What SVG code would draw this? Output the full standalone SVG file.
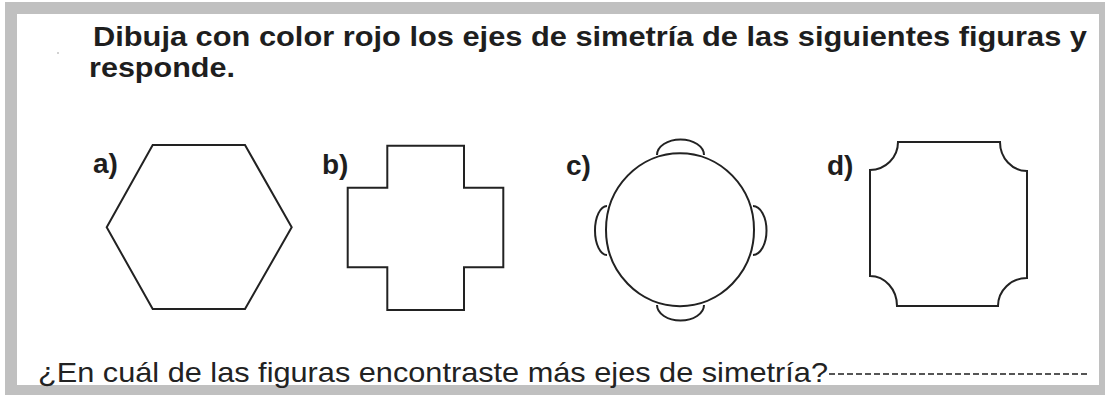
<svg xmlns="http://www.w3.org/2000/svg" width="1105" height="396" viewBox="0 0 1105 396">
  <style>
    .title { font-family: "Liberation Sans", Arial, sans-serif; font-weight: bold; font-size: 28px; fill: #1e1e1e; }
    .label { font-family: "Liberation Sans", Arial, sans-serif; font-weight: bold; font-size: 28px; fill: #1e1e1e; }
    .question { font-family: "Liberation Sans", Arial, sans-serif; font-size: 28px; fill: #222; }
    .shape { fill: none; stroke: #222; stroke-width: 2; stroke-linejoin: miter; }
  </style>
  <rect x="0" y="0" width="1105" height="396" fill="#ffffff"/>
  <rect x="5" y="2" width="1100" height="393" fill="#c0c0c0"/>
  <rect x="17" y="14" width="1082" height="371" fill="#ffffff"/>
  <circle cx="58" cy="53" r="0.8" fill="#999"/>

  <g id="title">
    <text class="title" x="93" y="46" textLength="994" lengthAdjust="spacingAndGlyphs">Dibuja con color rojo los ejes de simetría de las siguientes figuras y</text>
    <text class="title" x="89" y="77" textLength="146" lengthAdjust="spacingAndGlyphs">responde.</text>
  </g>

  <g id="figure-a">
    <text class="label" x="93" y="173">a)</text>
    <polygon class="shape" points="152.7,145 245,145 291.7,227.3 245,309 152.7,309 106.7,227.3"/>
  </g>

  <g id="figure-b">
    <text class="label" x="322" y="174">b)</text>
    <polygon class="shape" points="387.3,145.7 464,145.7 464,187.7 503.3,187.7 503.3,267.3 464,267.3 464,310 387.3,310 387.3,267.3 347.7,267.3 347.7,187.7 387.3,187.7"/>
  </g>

  <g id="figure-c">
    <text class="label" x="566" y="175">c)</text>
    <ellipse class="shape" cx="680" cy="229.7" rx="74" ry="76.5"/>
    <path class="shape" d="M657,155 A23.5,15.5 0 0 1 704,155"/>
    <path class="shape" d="M657,305 A23.5,15.5 0 0 0 704,305"/>
    <path class="shape" d="M607,206 A12,24.5 0 0 0 607,255"/>
    <path class="shape" d="M753,206 A13.5,24.5 0 0 1 753,255"/>
  </g>

  <g id="figure-d">
    <text class="label" x="827" y="175">d)</text>
    <path class="shape" d="M870,170 A28,28 0 0 0 898,142 L1000,142 A27,29 0 0 0 1027,171 L1027,278 A29,28 0 0 0 998,306 L897,306 A27,30 0 0 0 870,276 Z"/>
  </g>

  <g id="question">
    <text class="question" x="38" y="382" textLength="790" lengthAdjust="spacingAndGlyphs">¿En cuál de las figuras encontraste más ejes de simetría?</text>
    <line x1="829" y1="374" x2="1089" y2="374" stroke="#555" stroke-width="2" stroke-dasharray="6 3"/>
  </g>
</svg>
